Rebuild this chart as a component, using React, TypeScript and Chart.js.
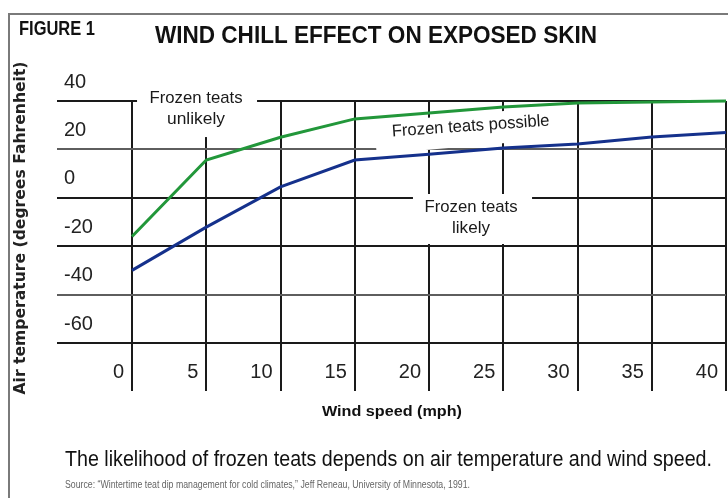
import React, { useEffect, useRef } from "react";
import { Chart, registerables } from "chart.js";

Chart.register(...registerables);

// ---- data ----
const windSpeeds = [0, 5, 10, 15, 20, 25, 30, 35, 40];
const unlikelyBoundary = [-16, 15.6, 25, 32.6, 35, 37.5, 39.2, 39.6, 40];
const likelyBoundary = [-30, -12.1, 4.5, 15.6, 18, 20.6, 22.2, 25.1, 27];
const xTickLabels = ["0", "5", "10", "15", "20", "25", "30", "35", "40"];
const yTickValues = [40, 20, 0, -20, -40, -60];
const yTickLabels = ["40", "20", "0", "-20", "-40", "-60"];

const figureLabel = "FIGURE 1";
const chartTitle = "WIND CHILL EFFECT ON EXPOSED SKIN";
const yAxisTitle = "Air temperature (degrees Fahrenheit)";
const xAxisTitle = "Wind speed (mph)";
const caption = "The likelihood of frozen teats depends on air temperature and wind speed.";
const sourceNote =
  "Source: \u201cWintertime teat dip management for cold climates,\u201d Jeff Reneau, University of Minnesota, 1991.";
const zoneUnlikely = ["Frozen teats", "unlikely"];
const zonePossible = ["Frozen teats possible"];
const zoneLikely = ["Frozen teats", "likely"];

// ---- layout of annotations (data coordinates) ----
const boxes = [
  { x1: 0.34, x2: 8.42, y1: 47.0, y2: 25.1, angle: 0 },
  { x1: 18.92, x2: 26.94, y1: 1.57, y2: -19.09, angle: 0 },
];
const rotBox = { cx: 22.76, cy: 28.0, w: 190, h: 32, angle: -5 };
const zoneTexts = [
  { text: zoneUnlikely[0], x: 4.31, y: 39.17, w: 93, angle: 0 },
  { text: zoneUnlikely[1], x: 4.31, y: 30.5, w: 58, angle: 0 },
  { text: zonePossible[0], x: 22.83, y: 27.6, w: 158, angle: -4 },
  { text: zoneLikely[0], x: 22.83, y: -5.87, w: 93, angle: 0 },
  { text: zoneLikely[1], x: 22.83, y: -14.55, w: 38, angle: 0 },
];

function fitText(
  ctx: CanvasRenderingContext2D,
  text: string,
  x: number,
  y: number,
  width: number,
  align: CanvasTextAlign,
  angle = 0
) {
  const w = ctx.measureText(text).width;
  const s = width / w;
  ctx.save();
  ctx.translate(x, y);
  if (angle) ctx.rotate(angle);
  ctx.scale(s, 1);
  ctx.textAlign = align;
  ctx.textBaseline = "alphabetic";
  ctx.fillText(text, 0, 0);
  ctx.restore();
}

const decorPlugin = {
  id: "decor",
  beforeDraw(chart: any) {
    const ctx = chart.ctx as CanvasRenderingContext2D;
    ctx.save();
    ctx.fillStyle = "#ffffff";
    ctx.fillRect(0, 0, chart.width, chart.height);
    ctx.restore();
  },
  beforeDatasetsDraw(chart: any) {
    const ctx = chart.ctx as CanvasRenderingContext2D;
    const xs = chart.scales.x;
    const ys = chart.scales.y;
    ctx.save();
    ctx.fillStyle = "#ffffff";
    for (const b of boxes) {
      const l = xs.getPixelForValue(b.x1);
      const r = xs.getPixelForValue(b.x2);
      const t = ys.getPixelForValue(b.y1);
      const bt = ys.getPixelForValue(b.y2);
      ctx.fillRect(l, t, r - l, bt - t);
    }
    const cx = xs.getPixelForValue(rotBox.cx);
    const cy = ys.getPixelForValue(rotBox.cy);
    ctx.translate(cx, cy);
    ctx.rotate((rotBox.angle * Math.PI) / 180);
    ctx.fillRect(-rotBox.w / 2, -rotBox.h / 2, rotBox.w, rotBox.h);
    ctx.restore();
  },
  afterDraw(chart: any) {
    const ctx = chart.ctx as CanvasRenderingContext2D;
    const xs = chart.scales.x;
    const ys = chart.scales.y;
    ctx.save();
    // frame
    ctx.strokeStyle = "#7a7a7a";
    ctx.lineWidth = 2;
    ctx.beginPath();
    ctx.moveTo(9, 498);
    ctx.lineTo(9, 14);
    ctx.lineTo(728, 14);
    ctx.stroke();

    ctx.fillStyle = "#111111";
    ctx.font = "bold 20px 'Liberation Sans'";
    fitText(ctx, figureLabel, 19, 35, 76, "left");
    ctx.font = "bold 24px 'Liberation Sans'";
    fitText(ctx, chartTitle, 155, 43, 442, "left");

    // y axis title
    ctx.font = "bold 15px 'DejaVu Sans'";
    ctx.fillStyle = "#222222";
    fitText(ctx, yAxisTitle, 25, 228, 333, "center", -Math.PI / 2);

    ctx.fillStyle = "#111111";
    ctx.font = "bold 15px 'Liberation Sans'";
    fitText(ctx, xAxisTitle, 322, 416, 140, "left");

    ctx.font = "22px 'Liberation Sans'";
    fitText(ctx, caption, 65, 466, 647, "left");

    ctx.fillStyle = "#666666";
    ctx.font = "10px 'Liberation Sans'";
    fitText(ctx, sourceNote, 65, 488, 405, "left");

    // zone labels
    ctx.fillStyle = "#1a1a1a";
    ctx.font = "17px 'Liberation Sans'";
    for (const z of zoneTexts) {
      fitText(
        ctx,
        z.text,
        xs.getPixelForValue(z.x),
        ys.getPixelForValue(z.y),
        z.w,
        "center",
        (z.angle * Math.PI) / 180
      );
    }
    ctx.restore();
  },
};

export default function App() {
  const ref = useRef<HTMLCanvasElement>(null);
  useEffect(() => {
    const canvas = ref.current!;
    const chart = new Chart(canvas, {
      type: "line",
      data: {
        datasets: [
          {
            label: "Frozen teats unlikely boundary",
            data: windSpeeds.map((x, i) => ({ x, y: unlikelyBoundary[i] })),
            borderColor: "#22973a",
            borderWidth: 3,
            pointRadius: 0,
            tension: 0,
            clip: false as any,
          },
          {
            label: "Frozen teats likely boundary",
            data: windSpeeds.map((x, i) => ({ x, y: likelyBoundary[i] })),
            borderColor: "#15318c",
            borderWidth: 3,
            pointRadius: 0,
            tension: 0,
            clip: false as any,
          },
        ],
      },
      options: {
        responsive: false,
        devicePixelRatio: 1,
        animation: false,
        layout: { padding: { left: 64, top: 101, right: 2, bottom: 0 } },
        plugins: {
          legend: { display: false },
          tooltip: { enabled: false },
          title: { display: false },
        },
        scales: {
          x: {
            type: "linear",
            min: 0,
            max: 40,
            afterFit: (s: any) => {
              s.height = 155;
            },
            border: { display: false },
            grid: {
              color: "#1a1a1a",
              lineWidth: 2,
              tickLength: 48,
              drawTicks: true,
            },
            ticks: {
              stepSize: 5,
              autoSkip: false,
              maxRotation: 0,
              minRotation: 0,
              align: "end",
              labelOffset: -8,
              padding: -31,
              color: "#222222",
              font: { family: "'Liberation Sans'", size: 20 },
              callback: (v: any) => {
                const i = windSpeeds.indexOf(Number(v));
                return i >= 0 ? xTickLabels[i] : "";
              },
            },
          },
          y: {
            type: "linear",
            min: -60,
            max: 40,
            afterFit: (s: any) => {
              s.width = 68;
            },
            border: { display: false },
            grid: {
              color: (c: any) =>
                c.tick && (c.tick.value === 20 || c.tick.value === -40) ? "#5e5e5e" : "#1a1a1a",
              lineWidth: 2,
              tickLength: 75,
              drawTicks: true,
            },
            ticks: {
              stepSize: 20,
              crossAlign: "far",
              labelOffset: -19,
              color: "#222222",
              font: { family: "'Liberation Sans'", size: 20 },
              callback: (v: any) => {
                const i = yTickValues.indexOf(Number(v));
                return i >= 0 ? yTickLabels[i] : "";
              },
            },
          },
        },
      } as any,
      plugins: [decorPlugin],
    });
    return () => chart.destroy();
  }, []);
  return (
    <div
      style={{
        position: "fixed",
        left: 0,
        top: 0,
        width: 728,
        height: 498,
        background: "#ffffff",
      }}
    >
      <canvas
        ref={ref}
        width={728}
        height={498}
        style={{ display: "block", width: 728, height: 498 }}
      />
    </div>
  );
}
